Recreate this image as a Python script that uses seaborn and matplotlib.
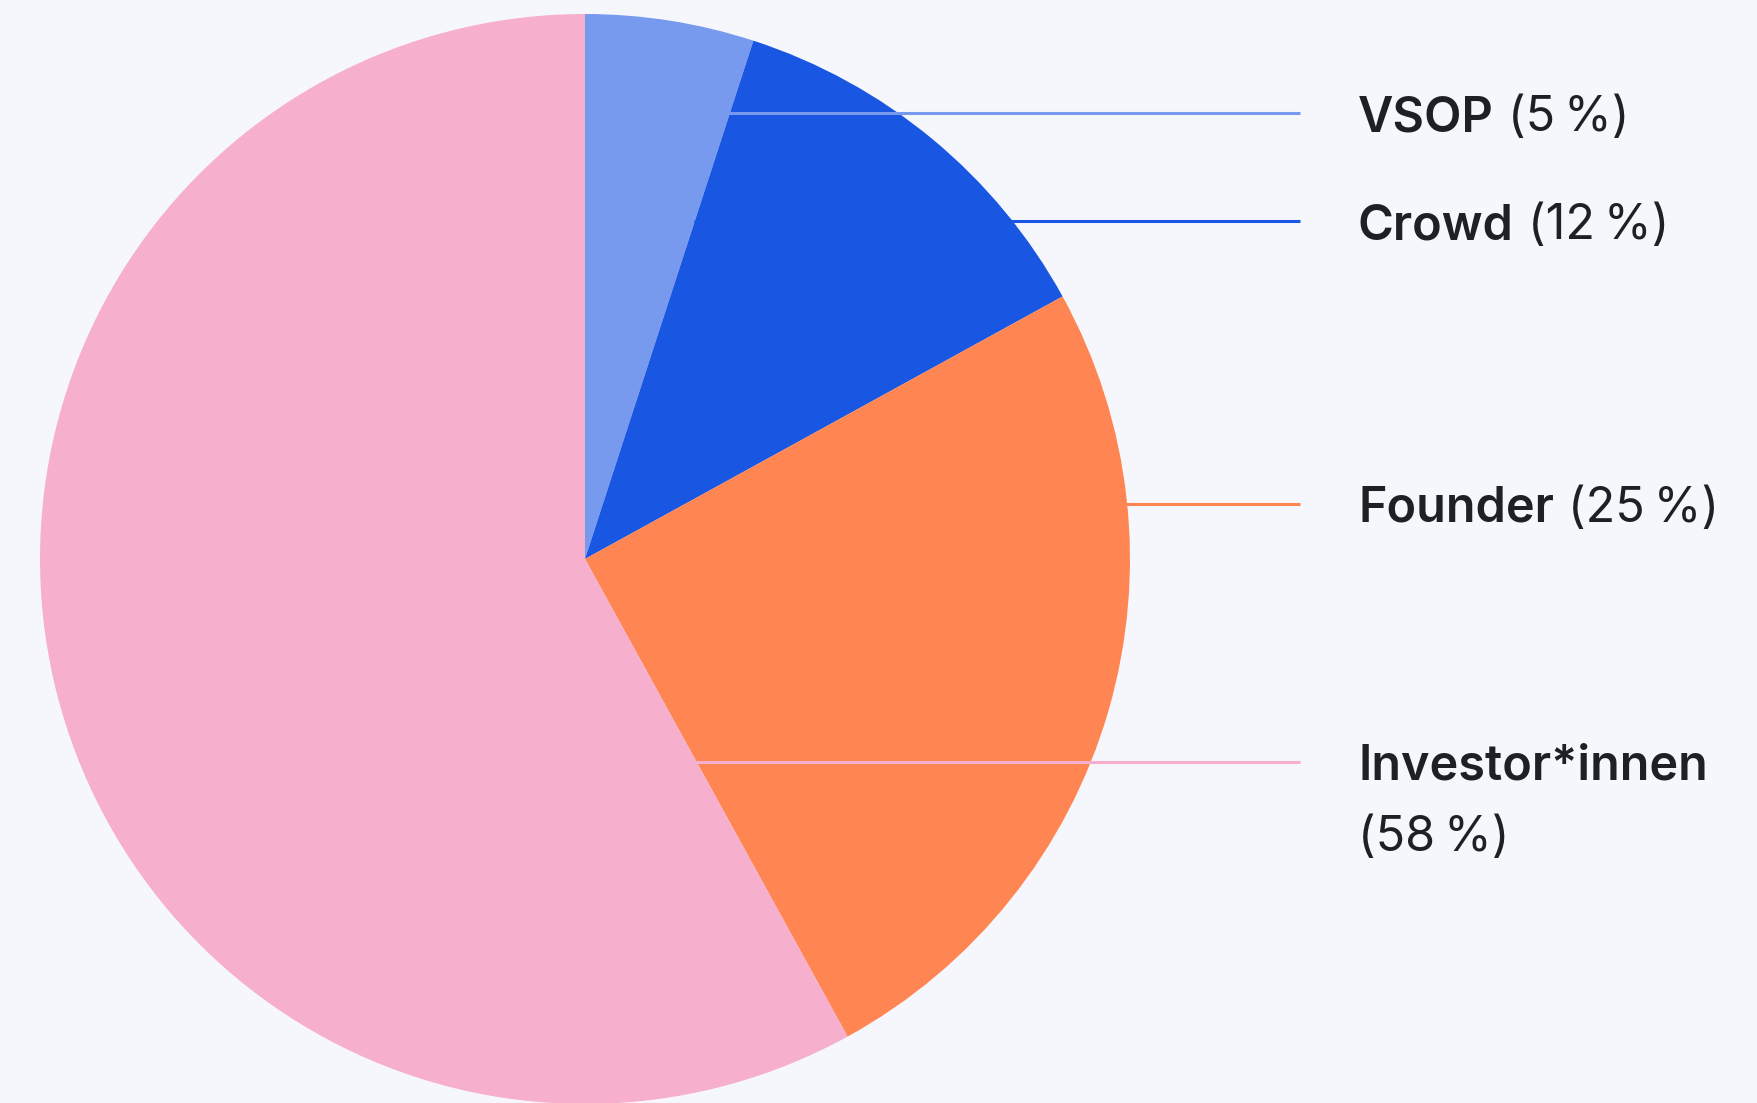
import matplotlib
matplotlib.use("Agg")
import matplotlib.pyplot as plt
import seaborn as sns

# data
categories = ["VSOP", "Crowd", "Founder", "Investor*innen"]
shares = [5, 12, 25, 58]
pct_labels = ["(5\u2009%)", "(12\u2009%)", "(25\u2009%)", "(58\u2009%)"]
colors = ["#779AEF", "#1957E2", "#FF8552", "#F7AFCE"]

# layout (pixel coords, y from bottom)
label_y = [990, 882, 599, 341]
pct_newline = [False, False, False, True]
center = (585, 544)
radius = 545
line_x0 = center[0] + 0.2 * radius
line_x1 = 1300
text_x = 1358

bg = "#F6F7FC"
text_color = "#1E2025"

sns.set_theme(style="white", rc={"figure.facecolor": bg, "axes.facecolor": bg})
plt.rcParams["font.family"] = ["Inter", "DejaVu Sans"]

fig = plt.figure(figsize=(17.57, 11.03), dpi=100)
ax = fig.add_axes([0, 0, 1, 1])

wedges, _ = ax.pie(shares, colors=colors, startangle=90, counterclock=False,
                   radius=radius, center=center,
                   wedgeprops=dict(linewidth=0, antialiased=True))

ax.set_xlim(0, 1757)
ax.set_ylim(0, 1103)
ax.set_aspect("equal")
ax.axis("off")

fs = 35
for cat, pct, col, y, nl in zip(categories, pct_labels, colors, label_y, pct_newline):
    ax.plot([line_x0, line_x1], [y, y], color=col, lw=2.2,
            solid_capstyle="butt", zorder=5)
    name = ax.text(text_x, y - 18, cat, fontsize=fs, fontweight="semibold",
                   color=text_color, va="baseline", ha="left")
    if nl:
        ax.text(text_x, y - 18 - 71, pct, fontsize=fs, fontweight="normal",
                color=text_color, va="baseline", ha="left")
    else:
        ax.annotate(pct, xy=(1, 0), xycoords=name, xytext=(10, 0),
                    textcoords="offset points", fontsize=fs, fontweight="normal",
                    color=text_color, va="bottom", ha="left")

fig.savefig("out.png", dpi=100, facecolor=bg)
